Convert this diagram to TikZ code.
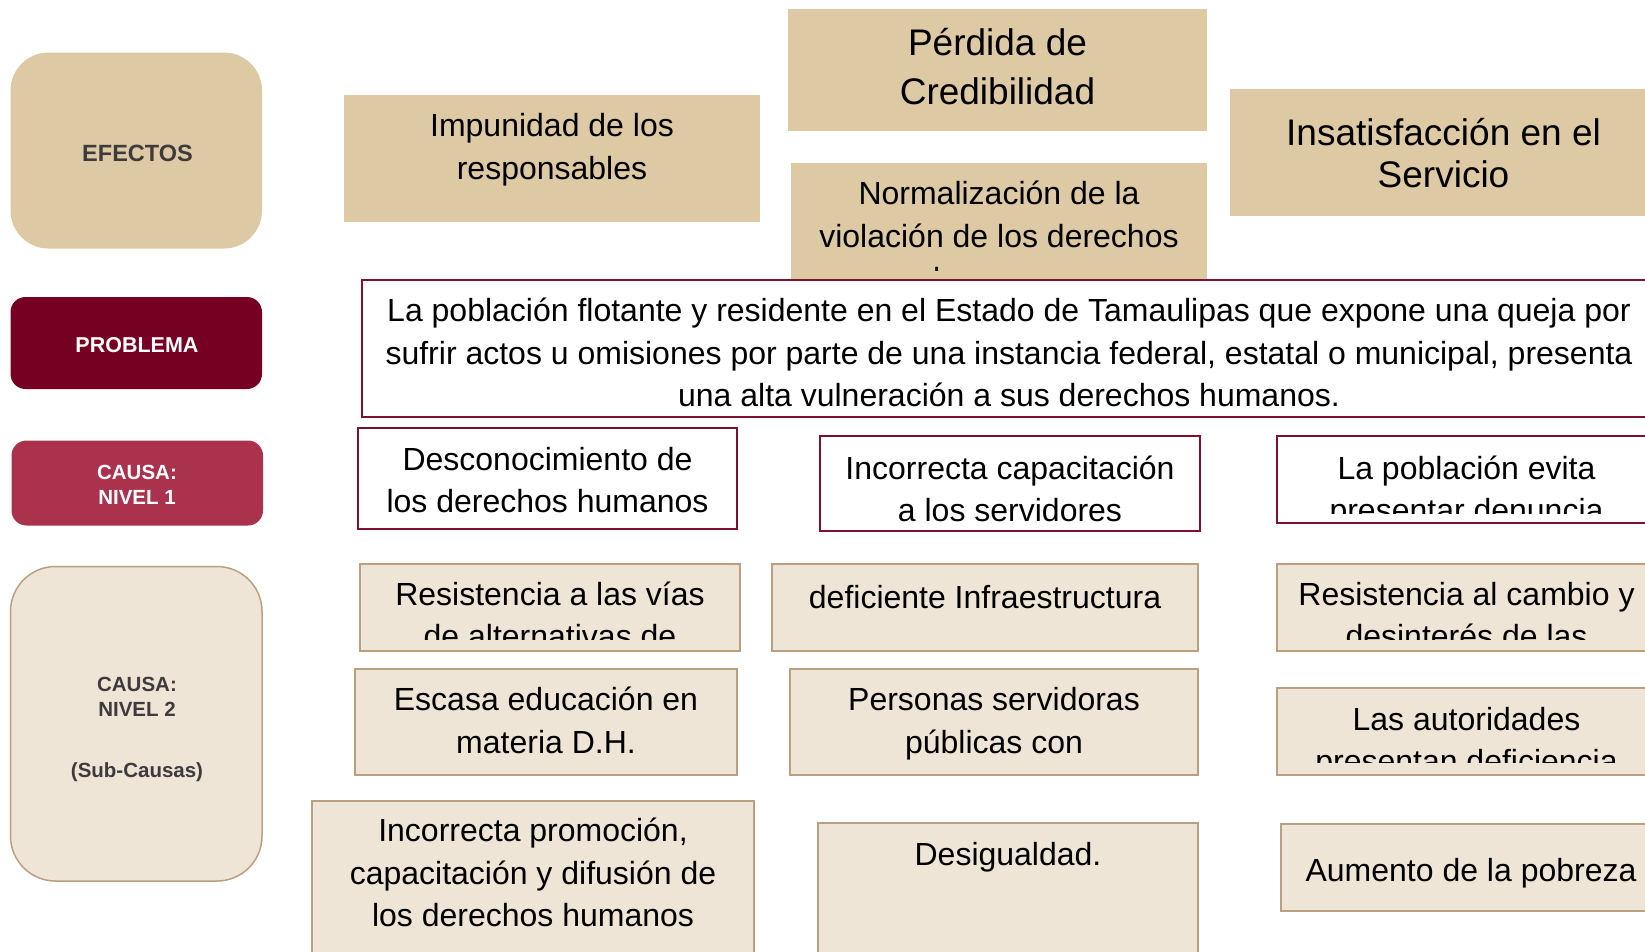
\documentclass[tikz,border=0pt]{standalone}
\usepackage{fontspec}
\setmainfont{Liberation Sans}
\definecolor{tanfill}{HTML}{DDC9A3}
\definecolor{subfill}{HTML}{EFE5D7}
\definecolor{subborder}{HTML}{B9A080}
\definecolor{probfill}{HTML}{760022}
\definecolor{causefill}{HTML}{AA324D}
\definecolor{maroon}{HTML}{7A1232}
\definecolor{labgray}{HTML}{3F3A3C}
\newcommand{\mybox}[6]{\node[#1,anchor=north west,minimum width={#4-#2},minimum height={#5-#3}] (#6) at (#2,#3) {};}
\newcommand{\mytext}[5]{\node[#1,anchor=north] (#2) at (#3,{#4-34.5}) {\rule{0pt}{36pt}#5};}
\begin{document}
\begin{tikzpicture}[x=1pt,y=-1pt,
  every node/.style={inner sep=0pt,outer sep=0pt},
  effect/.style={rectangle,fill=tanfill,draw=none},
  redbox/.style={rectangle,fill=white,draw=maroon,line width=2pt},
  sub/.style={rectangle,fill=subfill,draw=subborder,line width=2pt},
  txt/.style={align=center,text=black,font=\fontsize{32}{42.5}\selectfont},
  txtbig/.style={align=center,text=black,font=\fontsize{37}{49}\selectfont},
  lab/.style={align=center,font=\fontsize{20.5}{24.5}\selectfont\bfseries}]
\useasboundingbox (0,0) rectangle (1645,951);
\clip (0,0) rectangle (1645,951);

% left labels
\mybox{effect,rounded corners=38pt}{10.5}{52.5}{262}{248.5}{efB}
\mytext{lab,text=labgray,font=\fontsize{23.5}{27}\selectfont\bfseries}{efT}{137.5}{159.5}{EFECTOS}
\mybox{rectangle,fill=probfill,rounded corners=15pt}{10.5}{297}{262}{389}{prB}
\mytext{lab,text=white,font=\fontsize{21.5}{25}\selectfont\bfseries}{prT}{137}{351}{PROBLEMA}
\mybox{rectangle,fill=causefill,rounded corners=15pt}{11.5}{440.5}{263}{525.5}{c1B}
\mytext{lab,text=white}{c1T}{137}{478}{CAUSA:\\NIVEL 1}
\mybox{rectangle,fill=subfill,draw=subborder,line width=1.5pt,rounded corners=45pt}{10.5}{566.5}{262}{881}{c2B}
\mytext{lab,text=labgray}{c2T}{137}{690}{CAUSA:\\NIVEL 2}
\mytext{lab,text=labgray}{c2S}{137}{776}{(Sub-Causas)}

% effects
\mybox{effect}{344}{95}{760}{222}{impB}
\mytext{txt}{impT}{552}{135}{Impunidad de los\\responsables}
\mybox{effect}{788}{9}{1207}{131}{perB}
\mytext{txtbig}{perT}{997.5}{53.5}{Pérdida de\\Credibilidad}
\mybox{effect}{791}{163}{1207}{281}{norB}
\begin{scope}
\clip (791,163) rectangle (1207,270);
\mytext{txt,font=\fontsize{32}{43.3}\selectfont}{norT}{999}{202.5}{Normalización de la\\violación de los derechos\\humanos}
\end{scope}
\mybox{effect}{1230}{89}{1660}{216}{insB}
\mytext{txtbig,font=\fontsize{37}{42}\selectfont}{insT}{1443.5}{144}{Insatisfacción en el\\Servicio}

% problem
\mybox{redbox}{362}{280}{1656}{417}{probB}
\mytext{txt,font=\fontsize{32}{42.5}\selectfont}{probT}{1009}{320}{La población flotante y residente en el Estado de Tamaulipas que expone una queja por\\sufrir actos u omisiones por parte de una instancia federal, estatal o municipal, presenta\\una alta vulneración a sus derechos humanos.}

% causes level 1
\mybox{redbox}{358}{428}{737}{529}{c1aB}
\mytext{txt,font=\fontsize{32}{42}\selectfont}{c1aT}{547.5}{469}{Desconocimiento de\\los derechos humanos}
\mybox{redbox}{820}{436}{1200}{531}{c1bB}
\mytext{txt,font=\fontsize{32}{42}\selectfont}{c1bT}{1010}{477.5}{Incorrecta capacitación\\a los servidores}
\mybox{redbox}{1277}{436}{1656}{523}{c1cB}
\begin{scope}
\clip (1277,436) rectangle (1656,513);
\mytext{txt,font=\fontsize{32}{42}\selectfont}{c1cT}{1466.5}{477.5}{La población evita\\presentar denuncia}
\end{scope}

% sub-causes column 1
\mybox{sub}{360}{564}{740}{651}{s1aB}
\begin{scope}
\clip (360,564) rectangle (740,639);
\mytext{txt,font=\fontsize{32}{42}\selectfont}{s1aT}{550}{604}{Resistencia a las vías\\de alternativas de}
\end{scope}
\mybox{sub}{355}{669}{737}{775}{s1bB}
\mytext{txt,font=\fontsize{32}{43}\selectfont}{s1bT}{546}{709}{Escasa educación en\\materia D.H.}
\mybox{sub}{312}{801}{754}{960}{s1cB}
\mytext{txt}{s1cT}{533}{840}{Incorrecta promoción,\\capacitación y difusión de\\los derechos humanos}

% sub-causes column 2
\mybox{sub}{772}{564}{1198}{651}{s2aB}
\mytext{txt}{s2aT}{985}{606.5}{deficiente Infraestructura}
\mybox{sub}{790}{669}{1198}{775}{s2bB}
\mytext{txt,font=\fontsize{32}{43}\selectfont}{s2bT}{994}{709}{Personas servidoras\\públicas con}
\mybox{sub}{818}{823}{1198}{960}{s2cB}
\mytext{txt}{s2cT}{1008}{864}{Desigualdad.}

% sub-causes column 3
\mybox{sub}{1277}{564}{1656}{651}{s3aB}
\begin{scope}
\clip (1277,564) rectangle (1656,639);
\mytext{txt,font=\fontsize{32}{42}\selectfont}{s3aT}{1466.5}{604}{Resistencia al cambio y\\desinterés de las}
\end{scope}
\mybox{sub}{1277}{688}{1656}{775}{s3bB}
\begin{scope}
\clip (1277,688) rectangle (1656,762);
\mytext{txt,font=\fontsize{32}{42}\selectfont}{s3bT}{1466.5}{729}{Las autoridades\\presentan deficiencia}
\end{scope}
\mybox{sub}{1281}{824}{1661}{911}{s3cB}
\mytext{txt}{s3cT}{1471}{879.5}{Aumento de la pobreza}
\end{tikzpicture}
\end{document}
